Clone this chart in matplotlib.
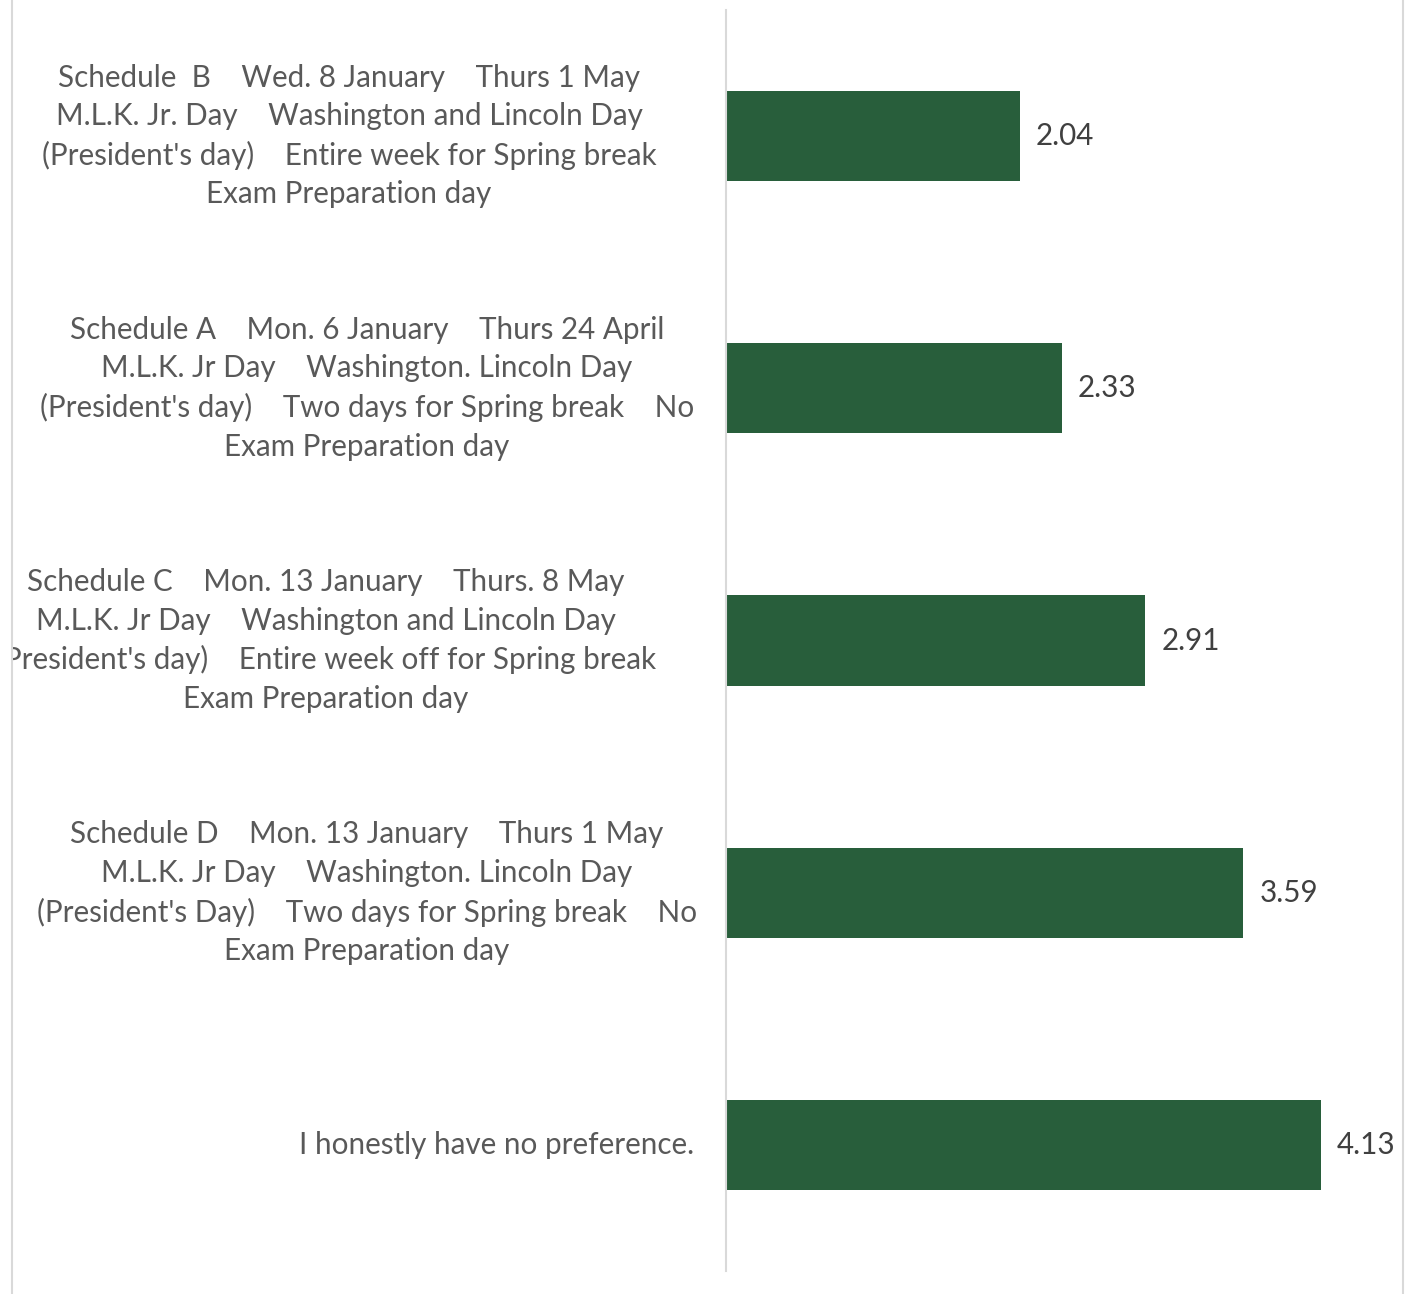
import matplotlib
matplotlib.use("Agg")
import matplotlib.pyplot as plt
from matplotlib.patches import Rectangle
from matplotlib.lines import Line2D

categories = [
    "Schedule  B    Wed. 8 January    Thurs 1 May\nM.L.K. Jr. Day    Washington and Lincoln Day\n(President's day)    Entire week for Spring break\nExam Preparation day",
    "Schedule A    Mon. 6 January    Thurs 24 April\nM.L.K. Jr Day    Washington. Lincoln Day\n(President's day)    Two days for Spring break    No\nExam Preparation day",
    "Schedule C    Mon. 13 January    Thurs. 8 May\nM.L.K. Jr Day    Washington and Lincoln Day\n(President's day)    Entire week off for Spring break\nExam Preparation day",
    "Schedule D    Mon. 13 January    Thurs 1 May\nM.L.K. Jr Day    Washington. Lincoln Day\n(President's Day)    Two days for Spring break    No\nExam Preparation day",
    "I honestly have no preference.",
]
values = [2.04, 2.33, 2.91, 3.59, 4.13]
label_centers_px = [349, 367, 326, 367, 497]

W, H = 1414, 1294
fig = plt.figure(figsize=(W / 100, H / 100), dpi=100)
ax_left = 726
ax_right = 1374.3
ax = fig.add_axes([ax_left / W, (H - 1271) / H, (ax_right - ax_left) / W, (1271 - 10) / H])

bar_color = "#285E3B"
ys = list(range(len(categories)))
ax.barh(ys, values, height=0.357, color=bar_color, zorder=2)
ax.set_xlim(0, 4.5)
ax.set_ylim(len(categories) - 0.5, -0.5)

for s in ["top", "right", "bottom"]:
    ax.spines[s].set_visible(False)
ax.spines["left"].set_color("#D9D9D9")
ax.spines["left"].set_linewidth(1.5)
ax.set_xticks([])
ax.set_yticks([])

font = "Lato"
fs = 21.3
txt_color = "#595959"
clip_rect = Rectangle((12 / W, 0), (1403 - 12) / W, 1, transform=fig.transFigure, visible=False)
fig.add_artist(clip_rect)
trans = ax.get_yaxis_transform()
for y, lab, cx in zip(ys, categories, label_centers_px):
    xa = (cx - ax_left) / (ax_right - ax_left)
    t = ax.text(xa, y, lab, transform=trans, ha="center", va="center", fontsize=fs,
                family=font, color=txt_color, linespacing=1.45, multialignment="center",
                clip_on=False)
    t.set_clip_path(clip_rect)
    t.set_clip_on(True)

for y, v in zip(ys, values):
    ax.annotate(f"{v:.2f}", xy=(v, y), xytext=(16, 0), textcoords="offset pixels",
                ha="left", va="center", fontsize=fs, family=font, color="#404040")

for xp in (12, 1403):
    fig.add_artist(Line2D([xp / W, xp / W], [0, 1], transform=fig.transFigure,
                          color="#D9D9D9", linewidth=1.5))

fig.savefig("out.png", dpi=100, facecolor="white")
